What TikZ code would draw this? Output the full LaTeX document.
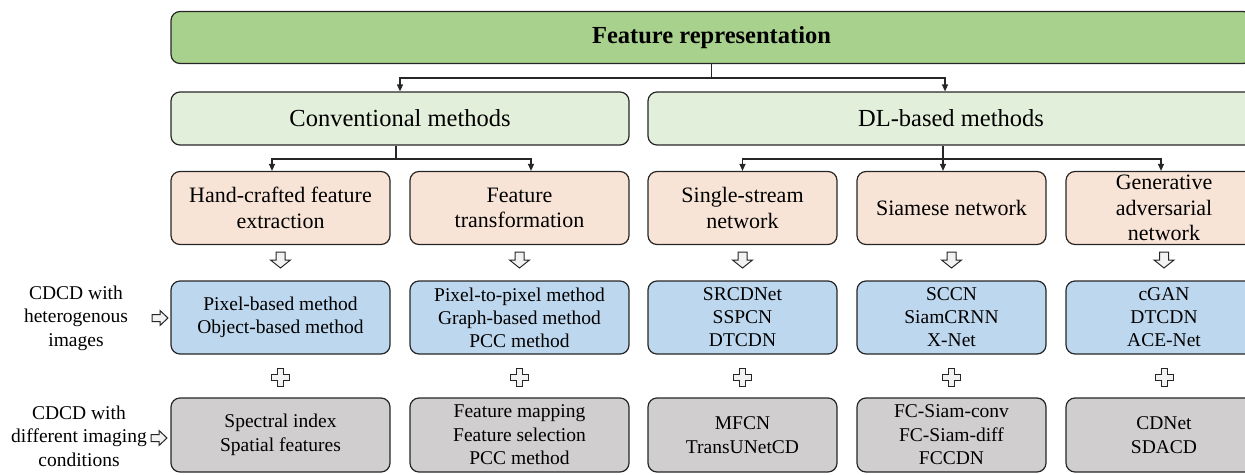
\documentclass[tikz,border=0pt]{standalone}
\usepackage{fontspec}
\setmainfont{Liberation Serif}
\usetikzlibrary{arrows.meta}

\definecolor{topgreen}{HTML}{A9D18E}
\definecolor{lightgreen}{HTML}{E2EFDA}
\definecolor{peach}{HTML}{F8E4D6}
\definecolor{paleblue}{HTML}{BDD7EE}
\definecolor{palegrey}{HTML}{D0CECE}
\definecolor{hollowfill}{HTML}{F2F2F2}
\definecolor{edge}{HTML}{262626}

\begin{document}
\begin{tikzpicture}[x=1pt,y=-1pt,
  box/.style={draw=edge, line width=1.2pt, rounded corners=9pt, inner sep=0pt,
    align=center, anchor=center},
  rootbox/.style={box, fill=topgreen, minimum height=52pt,
    font=\bfseries\fontsize{24.5}{28}\selectfont},
  groupbox/.style={box, fill=lightgreen, minimum height=53pt,
    font=\fontsize{24.5}{28}\selectfont},
  familybox/.style={box, fill=peach, minimum height=73pt,
    font=\fontsize{22}{25.5}\selectfont},
  hetbox/.style={box, fill=paleblue, minimum height=73pt,
    font=\fontsize{19.5}{23}\selectfont},
  condbox/.style={box, fill=palegrey, minimum height=74pt,
    font=\fontsize{19.5}{23.5}\selectfont},
  sidelabel/.style={align=center, inner sep=0pt, font=\fontsize{19.5}{23.5}\selectfont},
  link/.style={draw=edge, line width=1.2pt},
  linkarrow/.style={link, -{Triangle[length=7pt,width=6pt]}},
  hollow/.style={draw=edge, line width=1pt, fill=hollowfill, line join=miter},
  harrowdown/.pic={\path[hollow] (-4.5,-8) -- (4.5,-8) -- (4.5,0) -- (10,0) -- (0,8)
    -- (-10,0) -- (-4.5,0) -- cycle;},
  harrowright/.pic={\path[hollow] (-8,-3.5) -- (0,-3.5) -- (0,-7.5) -- (8,0) -- (0,7.5)
    -- (0,3.5) -- (-8,3.5) -- cycle;},
  hplus/.pic={\path[hollow] (-3,-9) -- (3,-9) -- (3,-3) -- (9,-3) -- (9,3) -- (3,3)
    -- (3,9) -- (-3,9) -- (-3,3) -- (-9,3) -- (-9,-3) -- (-3,-3) -- cycle;}
]
\clip (0,0) rectangle (1245,474);

% root
\node[rootbox, minimum width=1081pt] (root) at (711.5,37.5) {Feature representation};

% two method groups
\node[groupbox, minimum width=458pt] (conv) at (400,118.5) {Conventional methods};
\node[groupbox, minimum width=606pt] (dl) at (951,118.5) {DL-based methods};

% method families
\node[familybox, minimum width=219pt] (hand) at (280.5,208) {Hand-crafted feature\\extraction};
\node[familybox, minimum width=219pt] (ftrans) at (519.5,208) {Feature\\transformation};
\node[familybox, minimum width=189pt] (single) at (742.5,208) {Single-stream\\network};
\node[familybox, minimum width=189pt] (siam) at (951.5,208) {Siamese network};
\node[familybox, minimum width=196pt] (gan) at (1164,208) {Generative\\adversarial\\network};

% heterogeneous images row
\node[hetbox, minimum width=219pt] (hhand) at (280.5,317.5) {Pixel-based method\\Object-based method};
\node[hetbox, minimum width=219pt] (hftrans) at (519.5,317.5) {Pixel-to-pixel method\\Graph-based method\\PCC method};
\node[hetbox, minimum width=189pt] (hsingle) at (742.5,317.5) {SRCDNet\\SSPCN\\DTCDN};
\node[hetbox, minimum width=189pt] (hsiam) at (951.5,317.5) {SCCN\\SiamCRNN\\X-Net};
\node[hetbox, minimum width=196pt] (hgan) at (1164,317.5) {cGAN\\DTCDN\\ACE-Net};

% different imaging conditions row
\node[condbox, minimum width=219pt] (chand) at (280.5,435) {Spectral index\\Spatial features};
\node[condbox, minimum width=219pt] (cftrans) at (519.5,435) {Feature mapping\\Feature selection\\PCC method};
\node[condbox, minimum width=189pt] (csingle) at (742.5,435) {MFCN\\TransUNetCD};
\node[condbox, minimum width=189pt] (csiam) at (951.5,435) {FC-Siam-conv\\FC-Siam-diff\\FCCDN};
\node[condbox, minimum width=196pt] (cgan) at (1164,435) {CDNet\\SDACD};

% row labels
\node[sidelabel] (lhet) at (76,318) {CDCD with\\heterogenous\\images};
\node[sidelabel] (lcond) at (79,436) {CDCD with\\different imaging\\conditions};

% tree connectors
\coordinate (j0) at (711.5,78);
\draw[link] (root.south -| j0) -- (j0);
\draw[linkarrow] (j0) -| (conv.north);
\draw[linkarrow] (j0) -| ([xshift=-6pt]dl.north);

\coordinate (j1) at (396,159);
\draw[link] (conv.south -| j1) -- (j1);
\draw[linkarrow] (j1) -| ([xshift=-8.5pt]hand.north);
\draw[linkarrow] (j1) -| ([xshift=11.5pt]ftrans.north);

\coordinate (j2) at (943,159);
\draw[link] (dl.south -| j2) -- (j2);
\draw[linkarrow] (j2) -| (single.north);
\draw[linkarrow] (j2) -| ([xshift=-8.5pt]siam.north);
\draw[linkarrow] (j2) -| ([xshift=-3pt]gan.north);

% hollow arrows and plus signs between rows
\foreach \cx in {280.5,519.5,742.5,951.5,1164}{
  \pic at (\cx,260) {harrowdown};
  \pic at (\cx,377) {hplus};
}
\pic at (160,318) {harrowright};
\pic at (159,438) {harrowright};
\end{tikzpicture}
\end{document}
